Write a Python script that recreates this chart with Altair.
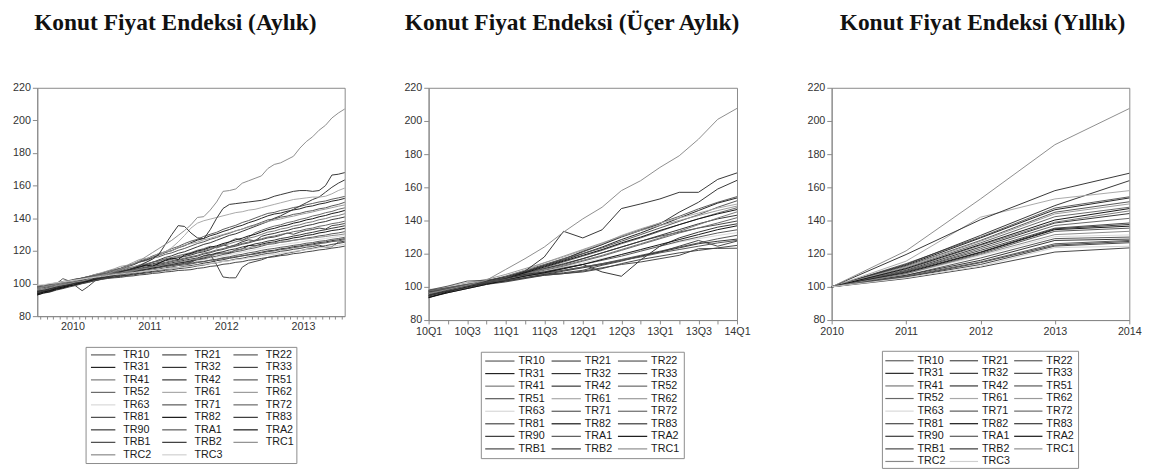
import altair as alt
import pandas as pd

# ---------------- series names & shades ----------------
SERIES = ["TR10", "TR21", "TR22", "TR31", "TR32", "TR33", "TR41", "TR42", "TR51",
          "TR52", "TR61", "TR62", "TR63", "TR71", "TR72", "TR81", "TR82", "TR83",
          "TR90", "TRA1", "TRA2", "TRB1", "TRB2", "TRC1", "TRC2", "TRC3"]
SERIES_Q = ["TR10", "TR21", "TR22", "TR31", "TR32", "TR33", "TR41", "TR42", "TR52",
            "TR51", "TR61", "TR62", "TR63", "TR71", "TR72", "TR81", "TR82", "TR83",
            "TR90", "TRA1", "TRA2", "TRB1", "TRB2", "TRC1"]
SHADES = {"TR10": "#5a5a5a", "TR21": "#454545", "TR22": "#555555", "TR31": "#222222",
          "TR32": "#333333", "TR33": "#444444", "TR41": "#777777", "TR42": "#333333",
          "TR51": "#555555", "TR52": "#666666", "TR61": "#a8a8a8", "TR62": "#999999",
          "TR63": "#d8d8d8", "TR71": "#555555", "TR72": "#666666", "TR81": "#444444",
          "TR82": "#111111", "TR83": "#333333", "TR90": "#333333", "TRA1": "#555555",
          "TRA2": "#111111", "TRB1": "#444444", "TRB2": "#333333", "TRC1": "#8c8c8c",
          "TRC2": "#888888", "TRC3": "#cfcfcf"}

TITLES = ["Konut Fiyat Endeksi (Aylık)", "Konut Fiyat Endeksi (Üçer Aylık)",
          "Konut Fiyat Endeksi (Yıllık)"]
Y_TICKS = [80, 100, 120, 140, 160, 180, 200, 220]
YEAR_LABELS = [2010, 2011, 2012, 2013]
QUARTER_LABELS = ["10Q1", "10Q2", "10Q3", "10Q4", "11Q1", "11Q2", "11Q3", "11Q4",
                  "12Q1", "12Q2", "12Q3", "12Q4", "13Q1", "13Q2", "13Q3", "13Q4", "14Q1"]
ANNUAL_LABELS = [2010, 2011, 2012, 2013, 2014]

# ---------------- monthly values 2010M01 .. 2014M01 ----------------
TR10_M = [95, 95.8, 97, 97.6, 98.9, 99.5, 100.8, 101.6, 103, 104.1, 105.3, 106.6,
          108, 109.2, 110.9, 112.1, 113.8, 115, 116.9, 118.2, 119.6, 121.4, 122.7, 124.5,
          126, 127.1, 128.9, 130.2, 131.4, 133.2, 134.5, 135.7, 137.4, 138.6, 140.1, 141.6,
          143, 143.6, 144.8, 145.5, 146.6, 147.2, 148.3, 149.1, 150, 150.6, 151.7, 152.5, 153.4]
TR21_M = [95, 96.2, 96.9, 98.1, 98.8, 100, 100.8, 102, 102.7, 103.9, 104.6, 105.5,
          106, 107, 107.6, 108.6, 109.3, 110.2, 110.9, 111.9, 112.5, 113.5, 114.2, 115.1,
          116, 116.8, 118.1, 118.9, 120.1, 120.9, 122.1, 122.9, 124.1, 124.9, 126.1, 126.9,
          128, 128.5, 129.5, 131, 130.2, 131.5, 132.5, 133.1, 134, 133.4, 135.5, 136, 136.8]
TR22_M = [94, 95, 95.8, 96.8, 97.6, 98.7, 99.5, 100.5, 101.3, 102.3, 103, 103.8,
          104.5, 105, 105.8, 106.3, 107.1, 107.6, 108.4, 108.9, 109.7, 110.2, 111, 111.4,
          112, 112.8, 113.4, 114.3, 114.9, 115.8, 116.4, 117.3, 117.9, 118.8, 119.4, 120.3,
          121, 121.5, 122.2, 122.7, 123.4, 123.9, 124.7, 125.1, 125.9, 126.3, 127.1, 127.6, 128.3]
TR31_M = [94, 95.2, 96.1, 97.4, 98.2, 99.5, 100.4, 101.8, 102.6, 104, 105.1, 106.3,
          107.5, 108.6, 110.3, 111.5, 113.2, 114.4, 116.1, 117.3, 119, 120.2, 121.9, 123.2,
          125, 126.6, 127.6, 129.3, 130.4, 131.9, 133.1, 134.6, 135.7, 137.3, 138.5, 140,
          141.5, 142.6, 143.2, 144.3, 145.1, 145.8, 147, 147.6, 148.7, 149.4, 150.5, 151.2, 152.2]
TR32_M = [94.5, 95.4, 96.7, 97.5, 98.6, 99.7, 100.7, 101.9, 102.7, 103.8, 104.7, 105.7,
          106.5, 107.3, 108.4, 109.2, 110.3, 111, 112.1, 112.9, 114, 114.8, 115.9, 116.6,
          117.5, 118.7, 119.5, 120.7, 122.5, 123.7, 122.6, 123.8, 125.6, 126.8, 126.2, 128.9,
          130, 130.7, 131.8, 132.5, 133.7, 134.4, 135.5, 136.2, 137.3, 138, 139.2, 139.9, 140.8]
TR33_M = [93, 94.1, 94.8, 96, 96.9, 97.9, 98.8, 99.9, 100.7, 101.8, 102.6, 103.4,
          104, 104.3, 105, 105.3, 106, 106.4, 107, 107.4, 108.1, 108.4, 109.1, 109.5,
          110, 110.8, 111.3, 112.2, 112.7, 113.6, 114.1, 115, 115.5, 116.4, 116.9, 117.8,
          118.5, 118.9, 119.8, 120.2, 121, 121.5, 122.3, 122.7, 123.6, 122.2, 122.6, 125.3, 126]
TR41_M = [96.5, 97.7, 98.4, 99.6, 100.4, 101.6, 102.3, 103.5, 104.3, 105.4, 106.2, 107.3,
          108, 108.6, 109.7, 110.3, 111.4, 112, 113.1, 113.7, 114.8, 115.4, 116.5, 117.1,
          118, 119.3, 120.1, 121.4, 122.3, 123.5, 124.4, 125.6, 126.5, 127.8, 128.7, 130.1,
          131.5, 132.2, 133.4, 134.1, 135.3, 136, 137.2, 137.9, 139.1, 139.8, 141, 141.7, 142.8]
TR42_M = [94, 95, 96, 97.5, 98, 99, 100, 101, 101.5, 102.5, 103.5, 104,
          105, 106.5, 108, 109, 110.5, 111.5, 113, 114.5, 116, 117, 118.5, 119.5,
          121, 122.5, 124, 125, 126.5, 128, 129.5, 130.5, 132, 133.5, 135, 136.5,
          138, 140, 141.5, 143.5, 145.5, 147.5, 149.5, 151.5, 153, 156, 159, 161.5, 163.5]
TR51_M = [96, 97.3, 97.9, 99.2, 100.1, 101.3, 102.1, 103.4, 104.2, 105.5, 106.3, 107.6,
          108.5, 109.4, 110.9, 111.8, 113.2, 114.1, 115.6, 116.4, 117.9, 118.8, 120.3, 121.5,
          123, 124.5, 125.6, 127.1, 128.2, 129.7, 130.8, 132.3, 133.4, 134.9, 136, 137.5,
          139, 139.6, 140.7, 141.3, 142.4, 143, 144.1, 144.7, 145.8, 146.4, 147.6, 148.5, 149.8]
TR52_M = [95.5, 96.4, 97.6, 98.3, 99.5, 100.4, 101.4, 102.5, 103.3, 104.5, 105.3, 106.2,
          107, 107.8, 109.1, 109.9, 111.2, 111.9, 113.1, 114, 115.2, 116, 117.1, 118,
          119, 120.4, 121.4, 122.8, 121.8, 123.2, 125.6, 127.6, 126.6, 128.5, 131.1, 132.6,
          134, 135.2, 136, 137.3, 138.1, 139.3, 140.1, 141.4, 142.2, 143.4, 144.2, 145.5, 146.4]
TR61_M = [96, 96.5, 97.5, 98, 99, 100, 100.5, 101.5, 102.5, 103, 104, 105,
          106, 107, 108.5, 110, 111.5, 113, 115, 117, 119.5, 122, 125.5, 129.5,
          134, 137, 138.5, 139.5, 140.5, 141.5, 142.5, 143.5, 144, 145, 145.5, 146.5,
          147.5, 148.5, 149.5, 150.5, 151.5, 152, 152.5, 153, 153, 153.5, 155, 157, 158.5]
TR62_M = [97, 97.6, 98.8, 99.5, 100.6, 101.3, 102.5, 103.2, 104.4, 105.5, 106.6, 107.8,
          109, 110.5, 111.2, 113, 114.8, 115.4, 116.4, 118.6, 119.4, 120, 121.9, 123.5,
          124.5, 125.4, 126.8, 127.7, 129, 130, 131.2, 132.3, 133.4, 134.6, 135.6, 136.9,
          138, 138.9, 139.6, 140.6, 141.3, 142.3, 143.1, 143.9, 144.9, 145.6, 146.5, 147.4, 148.2]
TR63_M = [96.5, 97.2, 98, 98.7, 99.5, 100.3, 101, 101.8, 102.5, 103.3, 104, 104.6,
          105, 105.8, 106.3, 107.1, 107.6, 108.4, 108.9, 109.8, 110.3, 111.1, 111.6, 112.4,
          113, 113.6, 114.6, 115.2, 116.1, 116.8, 117.7, 118.4, 119.3, 120, 120.9, 121.6,
          122.5, 123, 123.7, 124.2, 124.8, 125.3, 126, 126.5, 127.1, 127.6, 128.3, 128.8, 129.4]
TR71_M = [98, 98.4, 99.5, 99.9, 103, 101.5, 102.5, 103.1, 104, 104.7, 105.5, 106.3,
          107, 107.4, 108.1, 108.5, 109.2, 109.6, 110.3, 110.8, 111.4, 111.9, 112.5, 113,
          113.5, 114.5, 115.1, 116.1, 116.8, 117.8, 118.5, 119.5, 120.2, 121.2, 121.9, 122.9,
          124, 124.4, 125.3, 125.7, 126.6, 127.1, 127.9, 128.4, 129.2, 129.7, 130.5, 131, 131.8]
TR72_M = [97.5, 98.1, 99.2, 99.8, 100.9, 101.5, 102.6, 103.2, 104.3, 104.9, 106, 106.5,
          107, 107.9, 108.5, 109.4, 110, 110.9, 111.5, 112.4, 113, 114, 114.6, 115.6,
          116.5, 117.3, 118.6, 119.4, 120.6, 121.4, 122.6, 123.4, 124.6, 125.4, 126.6, 127.4,
          128.5, 129.1, 130.1, 130.7, 131.8, 132.4, 133.4, 134, 135.1, 135.7, 136.7, 137.3, 138.2]
TR81_M = [94, 95, 95.7, 96.7, 97.4, 98.4, 99.2, 100.1, 100.9, 101.8, 102.5, 103.1,
          103.5, 103.8, 104.4, 104.7, 105.3, 105.6, 106.2, 106.5, 107.1, 107.4, 108, 108.2,
          108.5, 109.3, 109.7, 110.5, 110.9, 111.8, 112.2, 113, 113.4, 114.3, 114.7, 115.4,
          116, 116.4, 117.1, 117.5, 118.3, 118.7, 119.4, 119.9, 120.6, 121, 121.7, 122.2, 122.9]
TR82_M = [93.5, 94.8, 95.6, 97, 97.9, 99.1, 100.2, 101.3, 102.2, 103.5, 104.3, 105.2,
          106, 107.2, 108, 109.3, 110.1, 111.4, 110.6, 112.4, 114.3, 115.5, 114.8, 117.5,
          118.5, 119.9, 120.8, 122.2, 123.1, 124.5, 125.5, 126.8, 127.8, 129.2, 130.1, 131.6,
          133, 133.8, 135, 135.8, 137, 137.8, 139, 139.7, 140.9, 141.7, 142.9, 143.7, 144.8]
TR83_M = [96, 96.6, 97.8, 98.4, 99.5, 100.2, 101.2, 101.9, 103, 103.6, 104.7, 105.1,
          105.5, 106.5, 107.1, 108, 108.7, 109.6, 110.2, 111.2, 111.8, 112.7, 113.4, 114.3,
          115, 115.7, 116.9, 117.6, 118.7, 119.5, 120.6, 121.3, 122.4, 123.2, 124.3, 125,
          126, 126.6, 127.6, 128.2, 129.1, 129.8, 130.7, 131.4, 132.3, 133, 133.9, 134.6, 135.4]
TR90_M = [95.5, 96.1, 97, 97.7, 98.6, 99.3, 100.2, 100.9, 101.8, 102.4, 103.3, 103.6,
          104, 104.7, 105.1, 105.8, 106.3, 107, 107.4, 108.2, 108.6, 109.4, 109.8, 110.5,
          111, 111.6, 112.5, 113.1, 114, 114.6, 115.5, 116.1, 117, 117.6, 118.5, 119.2,
          120, 120.4, 121.3, 121.7, 122.6, 123, 123.8, 124.3, 125.1, 125.5, 126.3, 126.8, 127.5]
TRA1_M = [98.5, 99, 99.8, 100.4, 101.3, 101.9, 102.8, 103.3, 104.2, 104.7, 105.5, 106,
          106.5, 106.8, 107.5, 107.8, 108.5, 108.9, 109.5, 109.9, 110.6, 110.9, 111.6, 112,
          112.5, 113.2, 113.6, 114.3, 114.7, 115.4, 115.8, 116.5, 116.9, 117.6, 118, 118.8,
          119.5, 120, 120.8, 121.2, 122, 122.5, 123.3, 123.7, 124.5, 124.9, 125.7, 126.1, 126.9]
TRA2_M = [93, 94.3, 95.1, 96.4, 97.3, 98.5, 99.4, 100.6, 101.5, 102.7, 103.5, 104.2,
          105, 105.6, 106.5, 107.1, 108, 108.7, 109.5, 110.2, 111, 111.7, 112.6, 113.2,
          114, 115, 115.7, 116.8, 118.5, 118.6, 118.9, 120.5, 121.2, 123.3, 123.1, 124.1,
          125, 125.5, 126.5, 127, 128, 128.5, 129.5, 130, 131, 131.6, 132.5, 133, 133.8]
TRB1_M = [97, 97.5, 98.4, 99.3, 100.2, 100.8, 98.5, 95.6, 98.3, 101.6, 102.9, 104,
          105, 105.6, 106.3, 107, 107.6, 108.4, 109, 109.8, 110.5, 111.2, 111.8, 112.4,
          113, 115, 117, 118, 111.5, 104, 103.5, 103.5, 110, 112.5, 113.5, 114.5,
          116, 116.9, 117.6, 118.6, 119.3, 120.1, 121, 121.6, 122.5, 123.2, 124, 124.6, 125.3]
TRB2_M = [95, 96, 97, 98, 98.5, 99.5, 100.5, 101, 102, 103, 103.5, 104.5,
          105.5, 107, 108, 109.5, 111, 113, 115, 118, 124, 130, 135.5, 135,
          131, 128, 127.5, 133, 140, 146, 148.5, 149, 149.5, 150, 150.5, 151,
          152, 153.5, 154.5, 155.5, 156.5, 157, 157, 156.5, 157, 160, 166.5, 167, 168]
TRC1_M = [96, 96.5, 97.5, 98.5, 99.5, 100, 101, 101.5, 102.5, 104, 105, 106,
          107.5, 109, 110.5, 112, 114, 116.5, 119, 121.5, 124, 126.5, 129.5, 132.5,
          136, 140.5, 141, 145, 150, 156.5, 157, 158, 161.5, 163, 164.5, 166,
          170.5, 173, 174, 176, 178, 183, 187, 190, 194, 197, 201.5, 204.5, 207]
TRC2_M = [97, 97.9, 98.6, 99.5, 100.3, 101.2, 101.9, 102.8, 103.6, 104.4, 105.1, 105.6,
          106, 106.5, 107.4, 107.9, 108.8, 109.3, 110.2, 110.7, 111.6, 112.1, 113, 113.6,
          114.5, 115.1, 116.2, 116.8, 117.9, 118.5, 119.5, 120.2, 121.2, 121.8, 122.9, 123.5,
          124.5, 125.1, 125.4, 126, 126.4, 127, 127.4, 127.9, 128.4, 128.8, 129.4, 129.8, 130.4]
TRC3_M = [99, 99.3, 100, 100.4, 101.1, 101.6, 102.2, 102.7, 103.3, 103.8, 104.4, 104.9,
          105.5, 105.8, 106.4, 106.7, 107.2, 107.6, 108.1, 108.5, 109, 109.3, 109.8, 110.1,
          110.5, 111.2, 111.6, 112.3, 112.8, 113.5, 113.9, 114.6, 115, 115.7, 116.2, 116.9,
          117.5, 117.9, 118.6, 119, 119.7, 120.1, 120.8, 121.2, 121.9, 122.3, 123, 123.4, 124]

MONTHLY = {"TR10": TR10_M, "TR21": TR21_M, "TR22": TR22_M, "TR31": TR31_M, "TR32": TR32_M,
           "TR33": TR33_M, "TR41": TR41_M, "TR42": TR42_M, "TR51": TR51_M, "TR52": TR52_M,
           "TR61": TR61_M, "TR62": TR62_M, "TR63": TR63_M, "TR71": TR71_M, "TR72": TR72_M,
           "TR81": TR81_M, "TR82": TR82_M, "TR83": TR83_M, "TR90": TR90_M, "TRA1": TRA1_M,
           "TRA2": TRA2_M, "TRB1": TRB1_M, "TRB2": TRB2_M, "TRC1": TRC1_M, "TRC2": TRC2_M,
           "TRC3": TRC3_M}

# ---------------- quarterly values 10Q1 .. 14Q1 ----------------
QUARTERLY = {
    "TR10": [96, 99, 102, 103.5, 106, 109.5, 113, 117, 121, 125.5, 130.5, 134.5, 138.5, 142.5, 147, 151, 154.4],
    "TR21": [97, 99.5, 101, 103, 105, 108, 111, 114, 117, 120.5, 124, 127.5, 130.5, 133, 135.5, 137.5, 139.7],
    "TR22": [95.5, 98, 100, 102.5, 104.5, 106.5, 108.5, 110, 112, 114, 116.5, 119, 121.5, 124, 126.5, 129, 131.1],
    "TR31": [94.5, 97.5, 101, 103, 105.5, 109, 112.5, 116, 120, 124, 128.5, 132.5, 137, 141.5, 146, 150.5, 153.6],
    "TR32": [97.5, 99, 101.5, 103.5, 106, 108.5, 111, 113.5, 117, 120.5, 124, 127.5, 131, 134.5, 138, 141, 143.2],
    "TR33": [96, 98, 100.5, 102, 103.5, 105.5, 107.5, 108.5, 110, 113, 115.5, 118.5, 121, 124.5, 128, 124.5, 127.6],
    "TR41": [98, 99.5, 102, 104, 106, 108, 110.5, 113, 116, 119, 122.5, 126, 129.5, 133.5, 137.5, 141.5, 145.2],
    "TR42": [94.5, 97.5, 100.5, 103, 105.5, 109, 113, 116.5, 121.5, 125.5, 130, 134, 138, 145, 151, 159, 164.2],
    "TR52": [95, 98, 100.5, 103, 105, 108, 111.5, 115, 118.5, 122, 126, 129.5, 133.5, 137.5, 141, 144.5, 147.7],
    "TR51": [96.5, 99, 101.5, 103.5, 106.5, 110, 113.5, 117, 120, 123.5, 127.5, 131.5, 135.5, 139.5, 143.5, 148, 151.9],
    "TR61": [96, 98, 100.5, 103, 106, 110, 114.5, 118, 122, 126, 131, 135, 138.5, 141.5, 144.5, 147.5, 149.9],
    "TR62": [97, 100, 102.5, 104.5, 107.5, 111, 114.5, 118.5, 122.5, 126.5, 130.5, 134, 137, 140, 143, 146, 148.7],
    "TR63": [98.5, 100, 102, 103.5, 105, 107, 109.5, 112, 114.5, 117, 119.5, 122, 124.5, 127, 129, 131, 132.7],
    "TR71": [98, 100.5, 103.5, 104, 105.5, 107, 109, 111.5, 113.5, 116, 118.5, 121.5, 124.5, 127.5, 130, 132.5, 134.4],
    "TR72": [97, 99.5, 101.5, 103.5, 105.5, 107.5, 110, 112.5, 115.5, 118.5, 122, 125.5, 129, 132.5, 135.5, 138.5, 141.7],
    "TR81": [94, 96.5, 99, 101.5, 103, 105, 107, 108, 109.5, 111.5, 113.5, 115, 117, 119, 123, 123.2, 123.3],
    "TR82": [93.5, 97, 100, 102.5, 105, 108.5, 112, 115.5, 119, 122.5, 126.5, 130, 134, 137.5, 141, 144, 146.6],
    "TR83": [96, 98.5, 101, 103, 105, 107.5, 109, 111, 113.5, 109, 106.4, 116.2, 124.5, 129.5, 133, 136, 138],
    "TR90": [95, 97.5, 99.5, 102, 103.5, 105.5, 107.5, 109.5, 111.5, 113.5, 116, 118.5, 121, 123.5, 126, 127.5, 128.8],
    "TRA1": [98, 99.5, 101.5, 103, 104.5, 106.5, 108, 110, 112, 114, 116, 118, 120.5, 122.5, 124.5, 126.5, 128],
    "TRA2": [93.5, 96.5, 99, 101.5, 104, 106.5, 108.5, 111, 113.5, 116.5, 119.5, 122.5, 125.5, 128.5, 131.5, 134.5, 136.8],
    "TRB1": [97, 98.5, 100.5, 102.5, 104, 105.5, 107, 108, 109, 111, 114, 116.5, 118.5, 120.5, 122, 123.5, 125],
    "TRB2": [95, 98, 101, 103.5, 106, 109.5, 118, 133.5, 129.5, 134.4, 147.2, 150, 153, 157, 157, 164.8, 168.7],
    "TRC1": [96, 98.5, 101, 104, 110.5, 117, 124, 133, 141, 148, 158, 164, 172, 179, 189, 201, 207.6],
}

# ---------------- annual values 2010 .. 2014 ----------------
ANNUAL = {
    "TR10": [100, 114, 130, 147.5, 154.3], "TR21": [100, 109.5, 122, 135.4, 138.5],
    "TR22": [100, 107, 117.4, 129.1, 130], "TR31": [100, 113, 129.5, 146.5, 153.6],
    "TR32": [100, 110, 124, 138.5, 144.2], "TR33": [100, 106, 114.6, 125.2, 127.4],
    "TR41": [100, 110.5, 125, 139, 145.8], "TR42": [100, 113.5, 131, 149, 164],
    "TR51": [100, 112.5, 128, 145, 151.3], "TR52": [100, 111.5, 126.5, 142.3, 148],
    "TR61": [100, 115.5, 142, 153, 158], "TR62": [100, 112, 127.5, 144, 150],
    "TR63": [100, 107.5, 118.8, 130.3, 131.3], "TR71": [100, 108, 120, 133.5, 135.4],
    "TR72": [100, 109.5, 123, 137, 141.3], "TR81": [100, 105, 111.9, 121, 123.5],
    "TR82": [100, 111, 125.5, 140.3, 147.2], "TR83": [100, 109, 121, 135, 137.6],
    "TR90": [100, 107, 116, 128, 128.8], "TRA1": [100, 106.5, 115, 126, 128],
    "TRA2": [100, 108.5, 120.7, 134.5, 136.6], "TRB1": [100, 106, 113.5, 124.6, 126.6],
    "TRB2": [100, 119.5, 140.5, 158, 168.5], "TRC1": [100, 121.7, 153, 185.7, 207.5],
    "TRC2": [100, 108, 119.5, 131.5, 133.5], "TRC3": [100, 105.5, 112.5, 123.7, 124.5],
}

# ---------------- long tables ----------------
rows_m = []
for s in SERIES:
    for m, v in enumerate(MONTHLY[s]):
        rows_m.append({"series": s, "t": 2010 + (m + 0.5) / 12, "value": v})
df_m = pd.DataFrame(rows_m)

rows_q = []
for s in SERIES_Q:
    for q, v in enumerate(QUARTERLY[s]):
        rows_q.append({"series": s, "q": q, "value": v})
df_q = pd.DataFrame(rows_q)

rows_a = []
for s in SERIES:
    for y, v in zip(ANNUAL_LABELS, ANNUAL[s]):
        rows_a.append({"series": s, "year": y, "value": v})
df_a = pd.DataFrame(rows_a)

FONT = "Liberation Sans"


def color_scale(order):
    return alt.Scale(domain=order, range=[SHADES[s] for s in order])


def y_enc():
    return alt.Y("value:Q", scale=alt.Scale(domain=[80, 220], nice=False, zero=False),
                 axis=alt.Axis(values=Y_TICKS, title=None, tickSize=5, labelPadding=2))


def legend_layers(order, bx, by, bw, bh, px, py, row0, s0, s1, tdx):
    """Three-column line legend, laid out row by row below the plot."""
    ldf = pd.DataFrame({"series": order, "idx": list(range(len(order)))})
    base = alt.Chart(ldf).transform_calculate(
        col="datum.idx % 3", row="floor(datum.idx / 3)"
    ).transform_calculate(
        sx0=f"{bx + s0} + datum.col * {px}",
        sx1=f"{bx + s1} + datum.col * {px}",
        tx=f"{bx + tdx} + datum.col * {px}",
        ty=f"{by + row0} + datum.row * {py}",
    )
    rules = base.mark_rule(strokeWidth=1.2).encode(
        x=alt.X("sx0:Q", scale=None, axis=None), x2="sx1:Q",
        y=alt.Y("ty:Q", scale=None, axis=None),
        color=alt.Color("series:N", scale=color_scale(order), legend=None),
    )
    texts = base.mark_text(align="left", baseline="middle", font=FONT, fontSize=11,
                           color="#1a1a1a").encode(
        x=alt.X("tx:Q", scale=None, axis=None),
        y=alt.Y("ty:Q", scale=None, axis=None),
        text="series:N",
    )
    box = alt.Chart(pd.DataFrame({"k": [0]})).mark_rect(
        fillOpacity=0, stroke="#8a8a8a", strokeWidth=1).encode(
        x=alt.value(bx), x2=alt.value(bx + bw), y=alt.value(by), y2=alt.value(by + bh))
    return [box, rules, texts]


def title(i, dx):
    return alt.TitleParams(TITLES[i], font="Liberation Serif", fontSize=24,
                           fontWeight="bold", color="#111111", anchor="middle",
                           frame="group", dx=dx, offset=48)


month_ticks = [2010 + k / 12 for k in range(1, 49)]
year_expr = "(abs(datum.value - floor(datum.value) - 0.5) < 0.001) ? ('' + floor(datum.value)) : ''"

lines1 = alt.Chart(df_m).mark_line(strokeWidth=1).encode(
    x=alt.X("t:Q", scale=alt.Scale(domain=[2010 + 0.5 / 12, 2010 + 48.5 / 12], nice=False, zero=False),
            axis=alt.Axis(values=month_ticks, labelExpr=year_expr, title=None, tickSize=3,
                          labelPadding=2, labelOverlap=False, labelFlush=False)),
    y=y_enc(),
    color=alt.Color("series:N", scale=color_scale(SERIES), legend=None),
)
p1 = alt.layer(lines1, *legend_layers(SERIES, 50, 266, 216, 119, 73, 12.8, 7.7, 5, 30, 38)).properties(
    width=315, height=234, title=title(0, -16))

q_expr = "[" + ",".join("'%s'" % lab for lab in QUARTER_LABELS) + "][datum.value]"
q_expr = "(datum.value % 2 == 0) ? " + q_expr + " : ''"
lines2 = alt.Chart(df_q).mark_line(strokeWidth=1).encode(
    x=alt.X("q:Q", scale=alt.Scale(domain=[0, len(QUARTER_LABELS) - 1], nice=False, zero=False),
            axis=alt.Axis(values=list(range(len(QUARTER_LABELS))), labelExpr=q_expr, title=None,
                          tickSize=4, labelPadding=2, labelOverlap=False, labelFlush=False)),
    y=y_enc(),
    color=alt.Color("series:N", scale=color_scale(SERIES_Q), legend=None),
)
p2 = alt.layer(lines2, *legend_layers(SERIES_Q, 54, 271, 208, 109, 68, 12.86, 9, 4, 34, 38)).properties(
    width=316, height=238, title=title(1, -11))

lines3 = alt.Chart(df_a).mark_line(strokeWidth=1).encode(
    x=alt.X("year:Q", scale=alt.Scale(domain=[ANNUAL_LABELS[0], ANNUAL_LABELS[-1]], nice=False, zero=False),
            axis=alt.Axis(values=ANNUAL_LABELS, format="d", title=None, tickSize=4,
                          labelPadding=2, labelOverlap=False, labelFlush=False)),
    y=y_enc(),
    color=alt.Color("series:N", scale=color_scale(SERIES), legend=None),
)
p3 = alt.layer(lines3, *legend_layers(SERIES, 52, 270, 201, 120, 66, 12.9, 9.7, 3, 32, 36)).properties(
    width=305, height=238, title=title(2, 2))

chart = alt.hconcat(p1, p2, p3, spacing=57).resolve_scale(color="independent").properties(
    padding={"left": 4, "top": -3, "right": 0, "bottom": 0}
).configure_view(stroke="#888888", strokeWidth=1).configure_axis(
    labelFont=FONT, labelFontSize=11, labelColor="#333333", domainColor="#888888",
    tickColor="#888888", grid=False
)

chart.save("out.html", embed_options={"renderer": "svg", "actions": False})
